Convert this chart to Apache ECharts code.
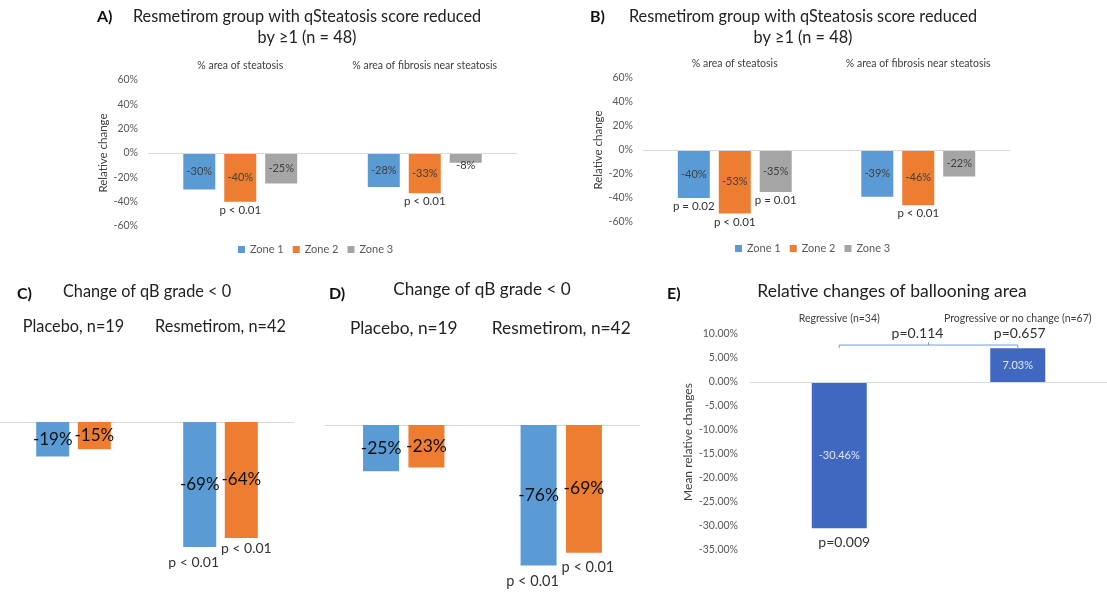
<!DOCTYPE html>
<html>
<head>
<meta charset="utf-8">
<script src="https://cdn.jsdelivr.net/npm/echarts@6/dist/echarts.min.js"></script>
<style>
html, body { margin: 0; padding: 0; background: #fff; }
#main { width: 1107px; height: 592px; }
</style>
</head>
<body>
<div id="main"></div>
<script>
// panels A and B
var abCategories = ['% area of steatosis', '% area of fibrosis near steatosis'];
var zoneNames = ['Zone 1', 'Zone 2', 'Zone 3'];
var abTicks = [-60, -40, -20, 0, 20, 40, 60];

var aZone1 = [-30, -28];
var aZone2 = [-40, -33];
var aZone3 = [-25, -8];
var aZone1P = [null, null];
var aZone2P = ['p < 0.01', 'p < 0.01'];
var aZone3P = [null, null];

var bZone1 = [-40, -39];
var bZone2 = [-53, -46];
var bZone3 = [-35, -22];
var bZone1P = ['p = 0.02', null];
var bZone2P = ['p < 0.01', 'p < 0.01'];
var bZone3P = ['p = 0.01', null];

// panels C and D
var cdCategories = ['Placebo, n=19', 'Resmetirom, n=42'];
var cBlue = [-19, -69];
var cOrange = [-15, -64];
var dBlue = [-25, -76];
var dOrange = [-23, -69];
var cdBlueP = [null, 'p < 0.01'];
var cdOrangeP = [null, 'p < 0.01'];

// panel E
var eCategories = ['Regressive (n=34)', 'Progressive or no change (n=67)'];
var eValues = [-30.46, 7.03];
var eTicks = [-35, -30, -25, -20, -15, -10, -5, 0, 5, 10];
var eP = ['p=0.009', 'p=0.657'];
var eCompareP = 'p=0.114';
var eBracketLevel = 7.7;

var BLUE = '#5b9bd5', ORANGE = '#ed7d31', GRAY = '#a5a5a5', EBLUE = '#4168c1';
var FONT = 'Lato';

var chart = echarts.init(document.getElementById('main'), null, {renderer: 'canvas'});

function zeroLine() {
    return {
        silent: true,
        symbol: ['none', 'none'],
        label: {show: false},
        lineStyle: {color: '#d9d9d9', type: 'solid', width: 1},
        data: [{yAxis: 0}]
    };
}

function pMarks(cats, values, pList, lab) {
    var pts = [];
    for (var i = 0; i < values.length; i++) {
        if (pList[i]) pts.push({name: pList[i], coord: [cats[i], values[i]]});
    }
    return {
        silent: true,
        symbol: 'rect',
        symbolSize: 1,
        itemStyle: {color: 'transparent'},
        label: Object.assign({show: true, position: 'bottom', formatter: '{b}', color: '#333', fontFamily: FONT}, lab),
        data: pts
    };
}

function abBar(name, grid, values, pList, color, withZero) {
    var s = {
        type: 'bar',
        name: name,
        xAxisIndex: grid,
        yAxisIndex: grid,
        barWidth: 32,
        barGap: '28%',
        itemStyle: {color: color},
        data: values.map(function (v) {
            // short bars get their label pushed just under the bar
            return Math.abs(v) < 12 ? {value: v, label: {offset: [0, 8]}} : v;
        }),
        label: {
            show: true,
            position: 'inside',
            formatter: function (p) { return p.value + '%'; },
            fontSize: 11,
            color: '#404040',
            fontFamily: FONT
        },
        markPoint: pMarks(abCategories, values, pList, {fontSize: 11.5, distance: 2})
    };
    if (withZero) s.markLine = zeroLine();
    return s;
}

function cdBar(name, grid, values, pList, color, width, lab) {
    return {
        type: 'bar',
        name: name,
        xAxisIndex: grid,
        yAxisIndex: grid,
        barWidth: width,
        barGap: '26%',
        itemStyle: {color: color},
        data: values,
        label: {
            show: true,
            position: 'inside',
            formatter: function (p) { return p.value + '%'; },
            fontSize: grid === 2 ? 17 : 17.5,
            color: '#111',
            fontFamily: FONT
        },
        markPoint: pMarks(cdCategories, values, pList, lab)
    };
}

function abX(grid) {
    return {
        gridIndex: grid, type: 'category', data: abCategories, position: 'top',
        axisLine: {show: false}, axisTick: {show: false},
        axisLabel: {margin: 9, fontSize: 10.5, color: '#404040', fontFamily: FONT, interval: 0}
    };
}
function abY(grid) {
    return {
        gridIndex: grid, type: 'value',
        min: abTicks[0], max: abTicks[abTicks.length - 1], interval: abTicks[1] - abTicks[0],
        axisLine: {show: false}, axisTick: {show: false}, splitLine: {show: false},
        axisLabel: {formatter: '{value}%', fontSize: 10.5, color: '#595959', margin: 10, fontFamily: FONT},
        name: 'Relative change', nameLocation: 'middle', nameGap: 36,
        nameTextStyle: {fontSize: 11.5, color: '#404040', fontFamily: FONT}
    };
}
function cdX(grid, margin) {
    return {
        gridIndex: grid, type: 'category', data: cdCategories, position: 'top',
        axisLine: {show: true, onZero: false, lineStyle: {color: '#d9d9d9'}},
        axisTick: {show: false},
        axisLabel: {margin: margin, fontSize: grid === 2 ? 16.3 : 17.3, color: '#222', fontFamily: FONT, interval: 0}
    };
}
function cdY(grid) {
    return {gridIndex: grid, type: 'value', min: -80, max: 0, show: false, splitLine: {show: false}};
}

// E bracket between the two groups (drawn on a hidden value axis aligned with the categories)
var eBracket = [
    [0, eBracketLevel - 0.6],
    [0, eBracketLevel],
    [0.5, eBracketLevel],
    {value: [0.5, eBracketLevel + 0.5], label: {show: true, formatter: eCompareP, position: 'top', distance: 2, offset: [-11, 0], fontSize: 14, color: '#333', fontFamily: FONT}},
    [0.5, eBracketLevel],
    [1, eBracketLevel],
    [1, eBracketLevel - 0.6]
];

function panelTitle(text, left, top, size, extra) {
    return Object.assign({
        text: text, left: left, top: top, padding: 0, textAlign: 'center',
        textStyle: {fontSize: size, fontWeight: 'normal', color: '#222', fontFamily: FONT}
    }, extra || {});
}
function panelLetter(text, left, top) {
    return {text: text, left: left, top: top, padding: 0,
        textStyle: {fontSize: 16, fontWeight: 'bold', color: '#111', fontFamily: FONT}};
}

var abTitle = 'Resmetirom group with qSteatosis score reduced\nby \u22651 (n = 48)';

chart.setOption({
    animation: false,
    textStyle: {fontFamily: FONT},
    title: [
        panelLetter('A)', 97, 9),
        {text: abTitle, left: 307, top: 6, padding: 0, textAlign: 'center',
            textStyle: {fontSize: 16.3, lineHeight: 21, fontWeight: 'normal', color: '#222', fontFamily: FONT}},
        panelLetter('B)', 590, 9),
        {text: abTitle, left: 803, top: 6, padding: 0, textAlign: 'center',
            textStyle: {fontSize: 16.3, lineHeight: 21, fontWeight: 'normal', color: '#222', fontFamily: FONT}},
        panelLetter('C)', 17, 286),
        panelTitle('Change of qB grade < 0', 147, 284, 16.3),
        panelLetter('D)', 329, 286),
        panelTitle('Change of qB grade < 0', 482, 281, 17.2),
        panelLetter('E)', 667, 286),
        panelTitle('Relative changes of ballooning area', 892, 282, 17.5)
    ],
    legend: [
        {data: zoneNames, left: 238, top: 244, padding: 0, icon: 'rect', itemWidth: 7, itemHeight: 7, itemGap: 9,
            textStyle: {fontSize: 11, color: '#595959', fontFamily: FONT}},
        {data: zoneNames, left: 735, top: 243, padding: 0, icon: 'rect', itemWidth: 7, itemHeight: 7, itemGap: 9,
            textStyle: {fontSize: 11, color: '#595959', fontFamily: FONT}}
    ],
    grid: [
        {left: 148, top: 80, width: 369, height: 146},
        {left: 643, top: 78, width: 367, height: 144},
        {left: 0, top: 422, width: 294, height: 145},
        {left: 325, top: 425, width: 315, height: 148},
        {left: 750, top: 334, width: 357, height: 216}
    ],
    xAxis: [
        abX(0),
        abX(1),
        cdX(2, 87),
        cdX(3, 88),
        {
            gridIndex: 4, type: 'category', data: eCategories, position: 'top',
            axisLine: {show: false}, axisTick: {show: false},
            axisLabel: {margin: 10, fontSize: 10.5, color: '#404040', fontFamily: FONT, interval: 0}
        },
        {gridIndex: 4, type: 'value', min: -0.5, max: 1.5, show: false, splitLine: {show: false}}
    ],
    yAxis: [
        abY(0),
        abY(1),
        cdY(2),
        cdY(3),
        {
            gridIndex: 4, type: 'value',
            min: eTicks[0], max: eTicks[eTicks.length - 1], interval: eTicks[1] - eTicks[0],
            axisLine: {show: false}, axisTick: {show: false}, splitLine: {show: false},
            axisLabel: {formatter: function (v) { return v.toFixed(2) + '%'; }, fontSize: 10.5, color: '#595959', margin: 12, fontFamily: FONT},
            name: 'Mean relative changes', nameLocation: 'middle', nameGap: 56,
            nameTextStyle: {fontSize: 12, color: '#404040', fontFamily: FONT}
        }
    ],
    series: [
        abBar('Zone 1', 0, aZone1, aZone1P, BLUE, true),
        abBar('Zone 2', 0, aZone2, aZone2P, ORANGE, false),
        abBar('Zone 3', 0, aZone3, aZone3P, GRAY, false),
        abBar('Zone 1', 1, bZone1, bZone1P, BLUE, true),
        abBar('Zone 2', 1, bZone2, bZone2P, ORANGE, false),
        abBar('Zone 3', 1, bZone3, bZone3P, GRAY, false),
        cdBar('C blue', 2, cBlue, cdBlueP, BLUE, 33, {fontSize: 14, distance: 8, offset: [-6, 0]}),
        cdBar('C orange', 2, cOrange, cdOrangeP, ORANGE, 33, {fontSize: 14, distance: 3, offset: [5, 0]}),
        cdBar('D blue', 3, dBlue, cdBlueP, BLUE, 36, {fontSize: 14.5, distance: 8, offset: [-6, 0]}),
        cdBar('D orange', 3, dOrange, cdOrangeP, ORANGE, 36, {fontSize: 14.5, distance: 7, offset: [4, 0]}),
        {
            type: 'bar',
            name: 'Ballooning',
            xAxisIndex: 4,
            yAxisIndex: 4,
            barWidth: 55,
            itemStyle: {color: EBLUE},
            data: eValues,
            label: {
                show: true, position: 'inside',
                formatter: function (p) { return p.value.toFixed(2) + '%'; },
                fontSize: 11, color: '#dfe7f7', fontFamily: FONT
            },
            markLine: zeroLine(),
            markPoint: {
                silent: true,
                symbol: 'rect',
                symbolSize: 1,
                itemStyle: {color: 'transparent'},
                label: {show: true, formatter: '{b}', fontSize: 14, color: '#333', fontFamily: FONT},
                data: [
                    {name: eP[0], coord: [eCategories[0], eValues[0]], label: {position: 'bottom', distance: 7, offset: [5, 0]}},
                    {name: eP[1], coord: [eCategories[1], eValues[1]], label: {position: 'top', distance: 7, offset: [2, 0]}}
                ]
            }
        },
        {
            type: 'line',
            name: 'bracket',
            xAxisIndex: 5,
            yAxisIndex: 4,
            data: eBracket,
            symbol: 'circle',
            symbolSize: 0,
            showSymbol: true,
            silent: true,
            lineStyle: {color: '#6b9be0', width: 1},
            itemStyle: {color: '#6b9be0'},
            label: {show: false}
        }
    ]
});
</script>
</body>
</html>
